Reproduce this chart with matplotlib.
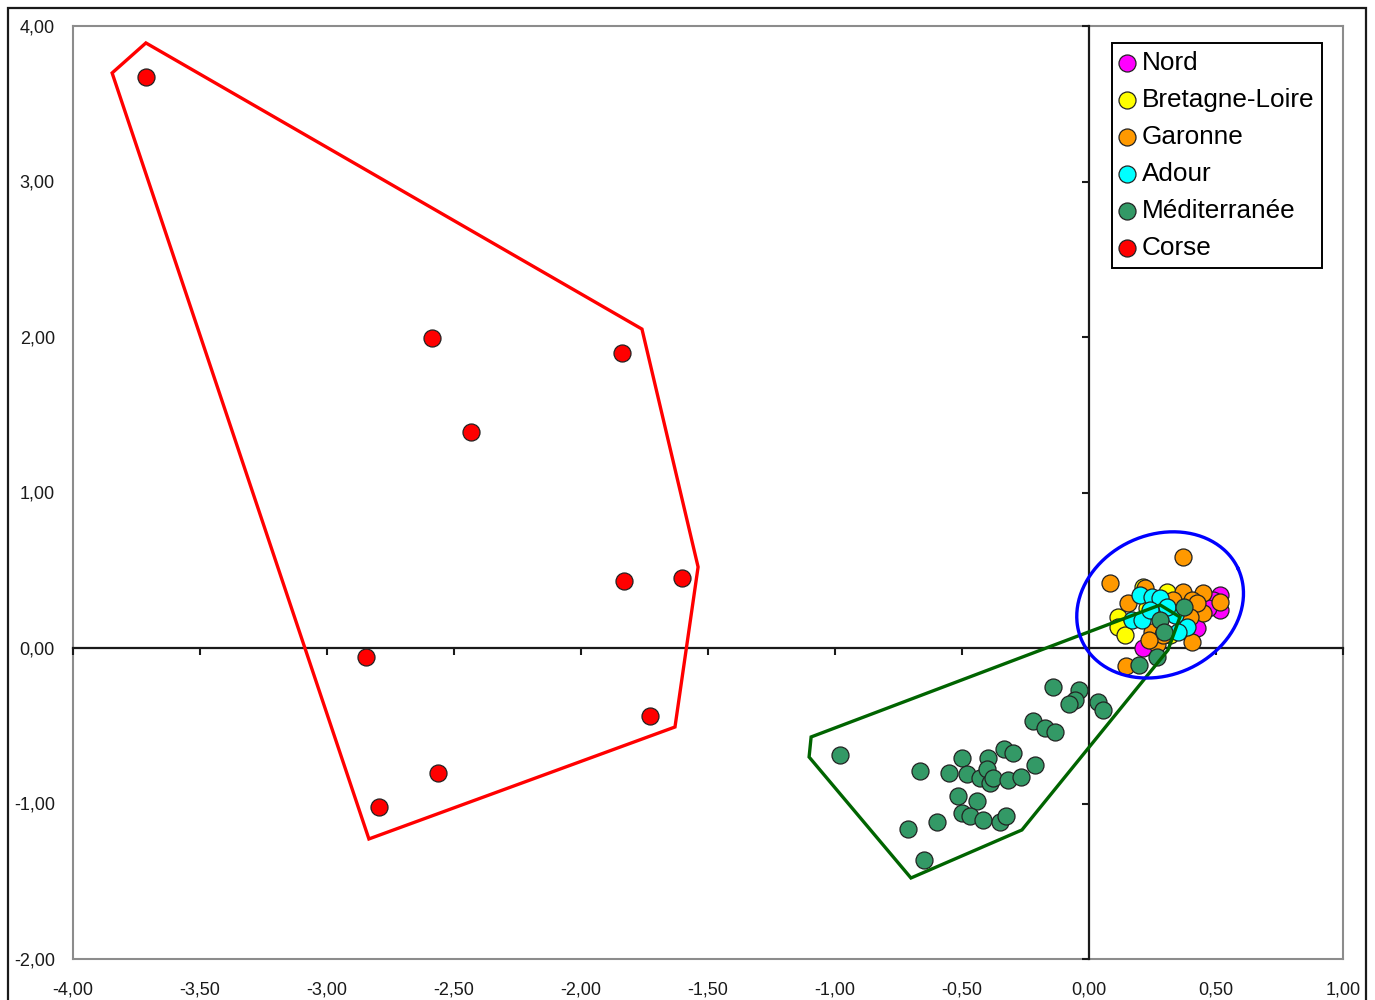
import numpy as np
import matplotlib
matplotlib.use("Agg")
import matplotlib.pyplot as plt
from matplotlib.patches import Polygon, Rectangle
from matplotlib.ticker import FuncFormatter

plt.rcParams['font.family'] = ['Liberation Sans', 'DejaVu Sans']

# ---------------- data ----------------
nord_x = [0.516, 0.516, 0.425, 0.213, 0.488, 0.469]
nord_y = [0.341, 0.244, 0.129, 0.000, 0.309, 0.257]

bret_x = [0.114, 0.114, 0.142, 0.228, 0.307, 0.213, 0.319, 0.268]
bret_y = [0.199, 0.135, 0.084, 0.257, 0.360, 0.392, 0.084, 0.225]

garo_x = [0.370, 0.083, 0.154, 0.449, 0.516, 0.449, 0.406, 0.268, 0.248,
          0.146, 0.370, 0.406, 0.425, 0.331, 0.220, 0.291, 0.398, 0.236]
garo_y = [0.585, 0.418, 0.289, 0.354, 0.296, 0.225, 0.039, 0.026, 0.103,
          -0.116, 0.360, 0.309, 0.289, 0.309, 0.386, 0.084, 0.199, 0.051]

adour_x = [0.201, 0.248, 0.280, 0.169, 0.209, 0.339, 0.386, 0.350, 0.307, 0.240]
adour_y = [0.341, 0.328, 0.322, 0.180, 0.180, 0.212, 0.135, 0.103, 0.264, 0.244]

medi_x = [-0.980, -0.665, -0.551, -0.500, -0.480, -0.429, -0.398, -0.402, -0.390,
          -0.378, -0.335, -0.299, -0.319, -0.268, -0.213, -0.516, -0.441, -0.500,
          -0.469, -0.417, -0.350, -0.327, -0.713, -0.598, -0.650, -0.220, -0.173,
          -0.134, -0.142, -0.039, -0.055, -0.079, 0.035, 0.055, 0.374, 0.280,
          0.295, 0.268, 0.197]
medi_y = [-0.688, -0.791, -0.804, -0.707, -0.810, -0.836, -0.707, -0.778, -0.868,
          -0.836, -0.650, -0.675, -0.849, -0.830, -0.752, -0.952, -0.984, -1.061,
          -1.080, -1.106, -1.119, -1.080, -1.164, -1.119, -1.363, -0.469, -0.514,
          -0.540, -0.251, -0.270, -0.334, -0.360, -0.347, -0.399, 0.264, 0.180,
          0.103, -0.058, -0.109]

corse_x = [-3.713, -2.587, -1.839, -2.433, -1.831, -1.602, -2.846, -1.728, -2.563, -2.795]
corse_y = [3.672, 1.994, 1.897, 1.389, 0.431, 0.450, -0.058, -0.437, -0.804, -1.023]

# hull outlines drawn on the chart
corse_hull_x = [-3.846, -3.713, -1.760, -1.539, -1.630, -2.835]
corse_hull_y = [3.698, 3.891, 2.051, 0.521, -0.508, -1.228]
medi_hull_x = [-1.094, 0.280, 0.358, 0.311, -0.264, -0.701, -1.102]
medi_hull_y = [-0.572, 0.277, 0.199, -0.013, -1.170, -1.479, -0.701]

x_ticks = [-4.0, -3.5, -3.0, -2.5, -2.0, -1.5, -1.0, -0.5, 0.0, 0.5, 1.0]
y_ticks = [-2.0, -1.0, 0.0, 1.0, 2.0, 3.0, 4.0]

series = [
    ("Nord", nord_x, nord_y, "#FF00FF"),
    ("Bretagne-Loire", bret_x, bret_y, "#FFFF00"),
    ("Garonne", garo_x, garo_y, "#FF9900"),
    ("Adour", adour_x, adour_y, "#00FFFF"),
    ("Méditerranée", medi_x, medi_y, "#339966"),
    ("Corse", corse_x, corse_y, "#FF0000"),
]

# ---------------- figure ----------------
fig = plt.figure(figsize=(13.75, 10), dpi=100)
pos = [73 / 1375, 1 - 959 / 1000, (1343 - 73) / 1375, (959 - 26) / 1000]

# background axes: grey frame + edge labels
ax = fig.add_axes(pos)
ax.set_xlim(-4, 1)
ax.set_ylim(-2, 4)
for s in ax.spines.values():
    s.set_color("#8c8c8c")
    s.set_linewidth(1.5)
ax.set_xticks(x_ticks)
ax.set_yticks(y_ticks)
fmt = FuncFormatter(lambda v, p: f"{v:.2f}".replace(".", ","))
ax.xaxis.set_major_formatter(fmt)
ax.yaxis.set_major_formatter(fmt)
ax.tick_params(axis="both", length=0, labelsize=13, colors="#1a1a1a")
ax.tick_params(axis="x", pad=16)
ax.tick_params(axis="y", pad=13)

# foreground axes: zero-crossing axes and data
ax2 = fig.add_axes(pos, sharex=ax, sharey=ax)
ax2.patch.set_alpha(0)
ax2.spines["top"].set_visible(False)
ax2.spines["right"].set_visible(False)
ax2.spines["left"].set_position(("data", 0))
ax2.spines["bottom"].set_position(("data", 0))
for k in ("left", "bottom"):
    ax2.spines[k].set_color("#1a1a1a")
    ax2.spines[k].set_linewidth(1.6)
ax2.tick_params(axis="both", direction="out", length=5, width=1.5,
                colors="#1a1a1a", labelleft=False, labelbottom=False)

for name, xs, ys, col in series:
    ax2.scatter(xs, ys, s=150, c=col, edgecolors="#222222", linewidths=0.9,
                zorder=4, label=name)

ax2.add_patch(Polygon(np.column_stack([corse_hull_x, corse_hull_y]), closed=True,
                      fill=False, edgecolor="#FF0000", linewidth=2.4, zorder=5))
ax2.add_patch(Polygon(np.column_stack([medi_hull_x, medi_hull_y]), closed=True,
                      fill=False, edgecolor="#006400", linewidth=2.4, zorder=5))

# ellipse around the continental cluster (defined in pixel-like units)
px_per_x = (1343 - 73) / 5.0
px_per_y = (959 - 26) / 6.0
cx, cy = 0.280, 0.277
a, b, ang = 86.0, 70.0, np.deg2rad(25)
t = np.linspace(0, 2 * np.pi, 300)
ex = a * np.cos(t) * np.cos(ang) - b * np.sin(t) * np.sin(ang)
ey = a * np.cos(t) * np.sin(ang) + b * np.sin(t) * np.cos(ang)
ax2.plot(cx + ex / px_per_x, cy + ey / px_per_y, color="#0000FF",
         linewidth=2.4, zorder=5)

leg = ax2.legend(loc="upper left", bbox_to_anchor=(1112 / 1375, 1 - 43 / 1000),
                 bbox_transform=fig.transFigure, borderaxespad=0,
                 fontsize=18.8, frameon=True, fancybox=False, framealpha=1,
                 edgecolor="black", handletextpad=0.3, handlelength=0.55,
                 labelspacing=0.5, borderpad=0.3, scatterpoints=1,
                 markerscale=1.0)
leg.get_frame().set_linewidth(1.4)
leg.set_zorder(10)

# outer chart frame
fig.patches.append(Rectangle((8 / 1375, -0.05), (1366 - 8) / 1375, 1 - 8 / 1000 + 0.05,
                             transform=fig.transFigure, fill=False,
                             edgecolor="#1a1a1a", linewidth=1.6))

fig.savefig("out.png", dpi=100)
